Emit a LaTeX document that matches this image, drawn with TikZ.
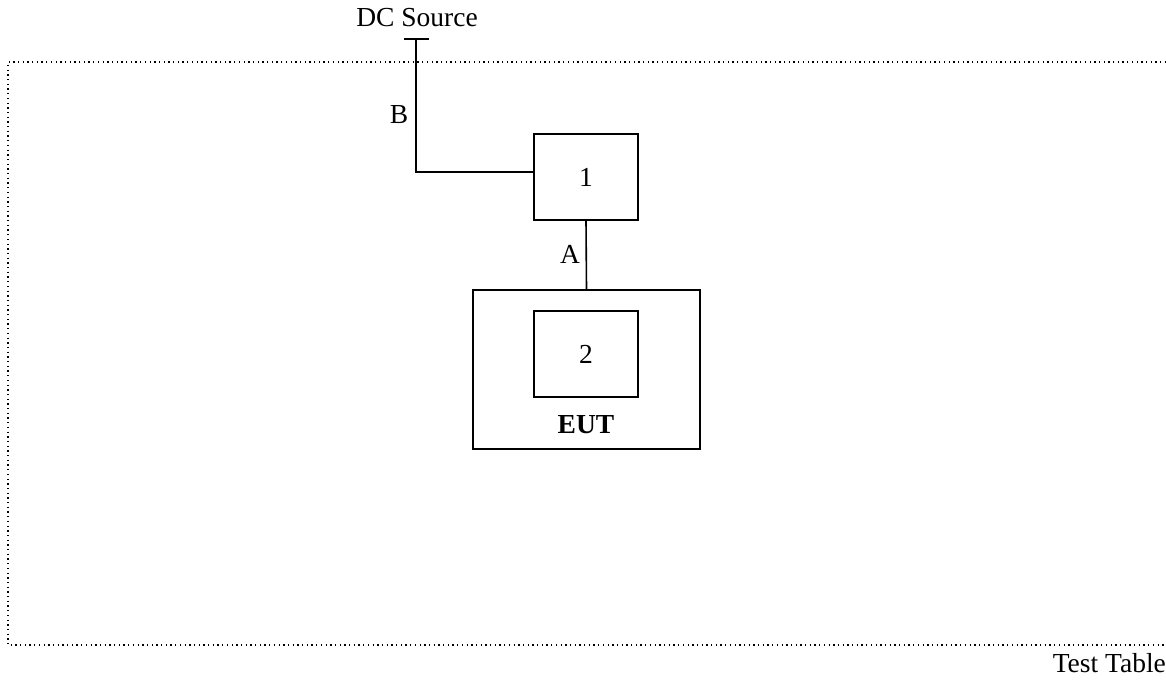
\documentclass[tikz,border=0pt]{standalone}
\usepackage{fontspec}
\setmainfont{Liberation Serif}
\begin{document}
\begin{tikzpicture}[x=1pt,y=-1pt,
  wire/.style={line width=1.6pt},
  txt/.style={font=\fontsize{27.5}{32}\selectfont},
  unit/.style={draw,line width=1.6pt,minimum width=104pt,minimum height=86pt,inner sep=0pt,txt},
  label/.style={txt,inner sep=0pt,anchor=base},
  tableedge/.style={line width=1.3pt,dash pattern=on 1.3pt off 3.4pt}]
\useasboundingbox (0,0) rectangle (1166,681);
% test table outline (open on the right)
\draw[tableedge] (1166,62) -- (8,62) -- (8,645) -- (1166,645);
\node[label,anchor=base east] (table) at (1166,672) {Test Table};
% DC source terminal
\node[label] (dc) at (417,26) {DC Source};
\coordinate (term) at (416,39);
\coordinate (termL) at (404,39);
\coordinate (termR) at (429,39);
\draw[wire] (termL) -- (termR);
% equipment
\node[unit] (box1) at (586,177) {1};
\node[draw,line width=1.6pt,minimum width=227pt,minimum height=159pt,inner sep=0pt] (eut) at (586.5,369.5) {};
\node[unit] (box2) at (586,354) {2};
\node[label,font=\fontsize{27.5}{32}\selectfont\bfseries] (eutlbl) at (586,433) {EUT};
% cables
\draw[wire] (term) |- ([yshift=5pt]box1.west);
\draw[wire] (box1.south) -- (eut.north);
\node[label] (lblB) at (399,123) {B};
\node[label] (lblA) at (570,263) {A};
\end{tikzpicture}
\end{document}
